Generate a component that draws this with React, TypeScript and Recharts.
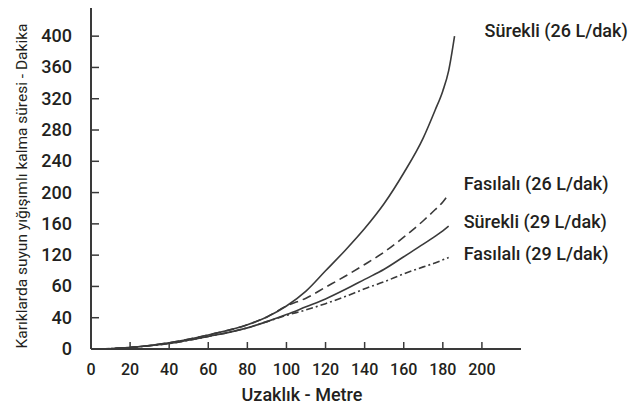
import React from 'react';
import { LineChart, Line, XAxis, YAxis, Label } from 'recharts';

const distances = [5, 20, 40, 60, 80, 90, 100, 110, 120, 130, 140, 150, 160, 170, 176, 180, 183, 186];
const surekli26 = [0, 2, 8, 18, 31, 41, 55, 74, 100, 126, 154, 186, 225, 270, 305, 330, 356, 400];
const fasilali26 = [0, 2, 8, 18, 31, 41, 55, 65, 79, 93, 108, 124, 143, 164, 178, 188, 198, null];
const surekli29 = [0, 2, 7, 16, 27, 35, 44, 54, 64, 76, 89, 102, 118, 134, 144, 151, 157, null];
const fasilali29 = [0, 2, 7, 16, 27, 35, 43, 50, 58, 67, 77, 86, 96, 105, 110, 114, 117, null];

const xTicks = [0, 20, 40, 60, 80, 100, 120, 140, 160, 180, 200];
const yTicks = [0, 40, 80, 120, 160, 200, 240, 280, 320, 360, 400];
// the printed axis reads 60 and 40 for the two lowest gridded steps
const yTickLabels = ['0', '40', '60', '120', '160', '200', '240', '280', '320', '360', '400'];

const seriesNames = ['Sürekli (26 L/dak)', 'Fasılalı (26 L/dak)', 'Sürekli (29 L/dak)', 'Fasılalı (29 L/dak)'];

const data = distances.map((d, i) => ({
    distance: d,
    s26: surekli26[i],
    f26: fasilali26[i],
    s29: surekli29[i],
    f29: fasilali29[i],
}));

const ink = '#3a3a3a';
const textColor = '#231f20';
const font = 'Roboto, "DejaVu Sans", sans-serif';

const XTick = (props: any) => {
    const { x, y, payload } = props;
    return (
        <g>
            {payload.value !== 0 && <line x1={x} x2={x} y1={y} y2={y - 7} stroke={ink} strokeWidth={1.5} />}
            <text x={x} y={y + 26} textAnchor="middle" fontSize={16} fontWeight={500} fill={textColor} fontFamily={font}>
                {payload.value}
            </text>
        </g>
    );
};

const YTick = (props: any) => {
    const { x, y, payload } = props;
    const idx = yTicks.indexOf(payload.value);
    return (
        <g>
            {payload.value !== 0 && <line x1={x} x2={x + 8} y1={y} y2={y} stroke={ink} strokeWidth={1.5} />}
            <text x={x - 19} y={y + 6} textAnchor="end" fontSize={18} fontWeight={500} fill={textColor} fontFamily={font}>
                {yTickLabels[idx]}
            </text>
        </g>
    );
};

const endLabel = (name: string, lastIndex: number, dx: number, dy: number) => (props: any) => {
    const { x, y, index } = props;
    if (index !== lastIndex) return null;
    return (
        <text key={name} x={x + dx} y={y + dy} fontSize={18} fontWeight={500} fill={textColor} fontFamily={font}>
            {name}
        </text>
    );
};

const App: React.FC = () => {
    return (
        <div style={{ position: 'absolute', left: 0, top: 0, width: 631, height: 406, background: '#fff' }}>
            <LineChart width={631} height={406} data={data} margin={{ top: 8, right: 110, bottom: 0, left: 0 }}>
                <XAxis
                    dataKey="distance"
                    type="number"
                    domain={[0, 220]}
                    ticks={xTicks}
                    interval={0}
                    height={57}
                    tickSize={0}
                    tickMargin={0}
                    tick={<XTick />}
                    axisLine={{ stroke: ink, strokeWidth: 2 }}
                >
                    <Label
                        content={({ viewBox }: any) => (
                            <text
                                x={viewBox.x + viewBox.width / 2 - 4}
                                y={viewBox.y + 52}
                                textAnchor="middle"
                                fontSize={18}
                                fontWeight={500}
                                fill={textColor}
                                fontFamily={font}
                            >
                                Uzaklık - Metre
                            </text>
                        )}
                    />
                </XAxis>
                <YAxis
                    type="number"
                    domain={[0, 436]}
                    ticks={yTicks}
                    interval={0}
                    width={91}
                    tickSize={0}
                    tickMargin={0}
                    tick={<YTick />}
                    axisLine={{ stroke: ink, strokeWidth: 2 }}
                >
                    <Label
                        content={() => (
                            <text
                                x={22}
                                y={186}
                                transform="rotate(-90 22 186)"
                                textAnchor="middle"
                                dominantBaseline="central"
                                fontSize={15.5}
                                fill={textColor}
                                fontFamily={font}
                            >
                                Karıklarda suyun yığışımlı kalma süresi - Dakika
                            </text>
                        )}
                    />
                </YAxis>
                <Line
                    dataKey="s26"
                    type="monotone"
                    stroke={ink}
                    strokeWidth={1.6}
                    dot={false}
                    isAnimationActive={false}
                    label={endLabel(seriesNames[0], 17, 30, 1)}
                />
                <Line
                    dataKey="f26"
                    type="monotone"
                    stroke={ink}
                    strokeWidth={1.6}
                    strokeDasharray="9 5"
                    dot={false}
                    isAnimationActive={false}
                    label={endLabel(seriesNames[1], 16, 15, -4)}
                />
                <Line
                    dataKey="s29"
                    type="monotone"
                    stroke={ink}
                    strokeWidth={1.6}
                    dot={false}
                    isAnimationActive={false}
                    label={endLabel(seriesNames[2], 16, 15, 2)}
                />
                <Line
                    dataKey="f29"
                    type="monotone"
                    stroke={ink}
                    strokeWidth={1.6}
                    strokeDasharray="7 3 2 3"
                    dot={false}
                    isAnimationActive={false}
                    label={endLabel(seriesNames[3], 16, 15, 3)}
                />
            </LineChart>
        </div>
    );
};

export default App;
